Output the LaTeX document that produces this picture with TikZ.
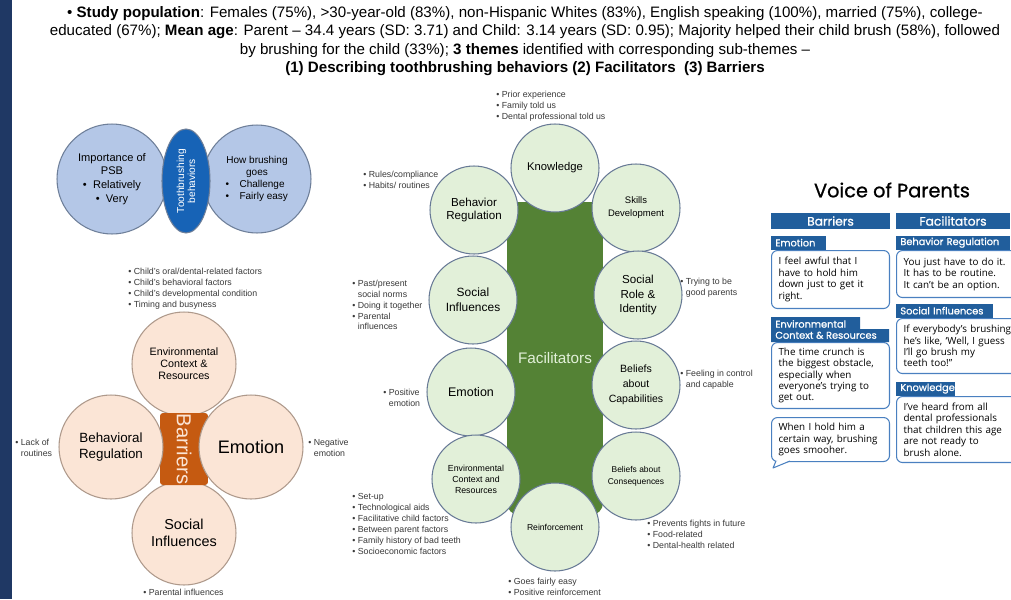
\documentclass[tikz,border=0pt]{standalone}
\usepackage{fontspec}
\setmainfont{Liberation Sans}
\newfontfamily\vopfont{Open Sans}
\newfontfamily\vophead{Poppins}[FakeBold=0.9]
\usepackage{xcolor}
\usepackage{tikz}
\usetikzlibrary{shapes.geometric, positioning}

\definecolor{navy}{HTML}{1F3864}
\definecolor{venfill}{HTML}{B4C7E7}
\definecolor{venline}{HTML}{6E7F99}
\definecolor{venmid}{HTML}{1763B6}
\definecolor{barfill}{HTML}{FBE5D6}
\definecolor{barline}{HTML}{AE998B}
\definecolor{barorange}{HTML}{C55A11}
\definecolor{facfill}{HTML}{E2F0D9}
\definecolor{facline}{HTML}{687A96}
\definecolor{facgreen}{HTML}{548235}
\definecolor{notegray}{HTML}{3A3A3A}
\definecolor{vop}{HTML}{215E9C}
\definecolor{vopline}{HTML}{4A80C0}

\newcommand{\fsz}[2]{\fontsize{#1}{#2}\selectfont}
\newcommand{\hang}{\hphantom{•~}}
\newcommand{\lbul}[1]{\makebox[1.26cm][l]{•\hspace{6pt}#1}}

\begin{document}
\begin{tikzpicture}[
    x=0.02cm, y=-0.02cm,
    venn/.style={circle, draw=venline, fill=venfill, line width=0.6pt, minimum size=2.2cm, inner sep=0pt, align=center},
    bcirc/.style={circle, draw=barline, fill=barfill, line width=0.6pt, minimum size=2.08cm, inner sep=0pt, align=center},
    fcirc/.style={circle, draw=facline, fill=facfill, line width=0.6pt, minimum size=1.76cm, inner sep=0pt, align=center},
    note/.style={anchor=west, align=left, inner sep=0pt, font=\fsz{5}{6.2}, text=notegray},
    bub/.style={draw=vopline, fill=white, rounded corners=0.12cm, line width=0.6pt, anchor=north west, align=left, inner xsep=0.14cm, inner ysep=0pt, font=\vopfont\fsz{5.6}{6.5}},
    tab/.style={fill=vop, text=white, anchor=south west, align=left, inner xsep=0.08cm, inner ysep=0pt, minimum height=0.28cm, font=\vophead\fsz{5.6}{6.4}},
    hdr/.style={fill=vop, text=white, minimum height=0.32cm, inner sep=0pt, font=\vophead\fsz{7}{8}}
]
\useasboundingbox (0,0) rectangle (1011,599);
\clip (0,0) rectangle (1011,599);
\fill[white] (0,0) rectangle (1011,599);
\fill[navy] (0,0) rectangle (12,599);

% Summary text
\node[font=\fsz{8.6}{10.5}, align=center] (head) at (525,41) {%
• \textbf{Study population}: Females (75\%), >30-year-old (83\%), non-Hispanic Whites (83\%), English speaking (100\%), married (75\%), college-\\
educated (67\%); \textbf{Mean age}: Parent – 34.4 years (SD: 3.71) and Child: 3.14 years (SD: 0.95); Majority helped their child brush (58\%), followed\\
by brushing for the child (33\%); \textbf{3 themes} identified with corresponding sub-themes –\\
\textbf{(1) Describing toothbrushing behaviors (2) Facilitators\ \ (3) Barriers}};

% Toothbrushing behaviors
\node[venn, font=\fsz{6.3}{7.9}] (imp) at (112,179) {Importance of\\PSB\\• \ Relatively\\• \ Very};
\node[venn, minimum size=2.16cm, font=\fsz{5.7}{6.8}] (how) at (257,179) {How brushing\\goes\\\lbul{Challenge}\\\lbul{Fairly easy}};
\node[ellipse, draw=venline, fill=venmid, line width=0.6pt, rotate=90, minimum width=2.08cm, minimum height=0.96cm, inner sep=0pt, text=white, align=center, font=\fsz{5.8}{6.2}] (tbb) at (186,181) {Toothbrushing\\behaviors};

% Barriers
\node[bcirc, font=\fsz{6.1}{6.8}] (becr) at (184,364) {Environmental\\Context \&\\Resources};
\node[bcirc, font=\fsz{8.2}{10}] (bsi) at (184,533) {Social\\Influences};
\node[fill=barorange, rounded corners=0.06cm, minimum width=0.96cm, minimum height=1.44cm, inner sep=0pt] (bar) at (184,449) {};
\node[bcirc, font=\fsz{7.6}{9.5}] (bbr) at (111,447) {Behavioral\\Regulation};
\node[bcirc, font=\fsz{10.3}{11}] (bemo) at (251,447) {Emotion};
\node[rotate=-90, inner sep=0pt, text=barfill, font=\fsz{11.5}{13}] (bartxt) at (bar.center) {Barriers};

\node[note] (nbecr) at (128,289) {• Child's oral/dental-related factors\\• Child's behavioral factors\\• Child's developmental condition\\• Timing and busyness};
\node[note] (nbbr) at (15,448) {• Lack of\\\hang routines};
\node[note] (nbemo) at (308,448) {• Negative\\\hang emotion};
\node[note] (nbsi) at (143,592) {• Parental influences};

% Facilitators
\node[fill=facgreen, rounded corners=0.24cm, minimum width=1.92cm, minimum height=6.26cm, inner sep=0pt, text=facfill, font=\fsz{8.7}{10}] (fac) at (555,358.5) {Facilitators};
\node[fcirc, font=\fsz{6.4}{7.4}] (know) at (555,168) {Knowledge};
\node[fcirc, font=\fsz{6.6}{7.4}] (fbr) at (474,210) {Behavior\\Regulation};
\node[fcirc, font=\fsz{5.4}{7.4}] (skill) at (636,208) {Skills\\Development};
\node[fcirc, font=\fsz{6.8}{8.5}] (fsi) at (473,300) {Social\\Influences};
\node[fcirc, font=\fsz{6.6}{8.2}] (role) at (638,295) {Social\\Role \&\\Identity};
\node[fcirc, font=\fsz{7.1}{8}] (femo) at (471,392) {Emotion};
\node[fcirc, font=\fsz{6}{8.5}] (bcap) at (636,385) {Beliefs\\about\\Capabilities};
\node[fcirc, font=\fsz{5}{6.2}] (fecr) at (476,479) {Environmental\\Context and\\Resources};
\node[fcirc, font=\fsz{4.8}{6.8}] (bcon) at (636,476) {Beliefs about\\Consequences};
\node[fcirc, font=\fsz{4.9}{6}] (reinf) at (555,527) {Reinforcement};

\node[note] (nknow) at (496,106) {• Prior experience\\• Family told us\\• Dental professional told us};
\node[note] (nfbr) at (363,180) {• Rules/compliance\\• Habits/ routines};
\node[note] (nfsi) at (352,305) {• Past/present\\\hang social norms\\• Doing it together\\• Parental\\\hang influences};
\node[note] (nfemo) at (383,397.5) {• Positive\\\hang emotion};
\node[note] (nfecr) at (352,524) {• Set-up\\• Technological aids\\• Facilitative child factors\\• Between parent factors\\• Family history of bad teeth\\• Socioeconomic factors};
\node[note] (nreinf) at (508,586.5) {• Goes fairly easy\\• Positive reinforcement};
\node[note] (nrole) at (680,288) {• Trying to be\\\hang good parents};
\node[note] (nbcap) at (680,379.5) {• Feeling in control\\\hang and capable};
\node[note] (nbcon) at (647,534) {• Prevents fights in future\\• Food-related\\• Dental-health related};

% Voice of Parents
\node[font=\vophead\fsz{11}{13}] (vop) at (892,190) {Voice of Parents};
\node[hdr, minimum width=2.38cm] (hbar) at (830.5,221) {Barriers};
\node[hdr, minimum width=2.28cm] (hfac) at (953,221) {Facilitators};

% barrier quotes
\node[bub, minimum height=1.16cm, text width=2.08cm] (qemo) at (771,250) {I feel awful that I\\have to hold him\\down just to get it\\right.};
\node[tab, text width=0.94cm] (temo) at (771,250) {Emotion};
\node[bub, minimum height=1.32cm, text width=2.08cm] (qecr) at (771,342) {The time crunch is\\the biggest obstacle,\\especially when\\everyone’s trying to\\get out.};
\fill[vop] (771,342) -- (771,317) -- (860,317) -- (860,329) -- (889,329) -- (889,342) -- cycle;
\node[anchor=west, align=left, inner sep=0pt, text=white, font=\vophead\fsz{5.6}{6.3}] (tecr) at (775,329.5) {Environmental\\Context \& Resources};
\node[bub, minimum height=0.88cm, text width=2.08cm] (qhold) at (771,417) {When I hold him a\\certain way, brushing\\goes smooher.};
\coordinate (tip) at (773,468);
\fill[white] (776,460.5) -- (tip) -- (790,460.5) -- cycle;
\draw[vopline, line width=0.6pt, line join=round] (776,461) -- (tip) -- (790,461);

% facilitator quotes
\node[bub, minimum height=0.94cm, text width=2.2cm] (qfbr) at (896,250) {You just have to do it.\\It has to be routine.\\It can’t be an option.};
\node[tab, text width=2.12cm] (tfbr) at (896,250) {Behavior Regulation};
\node[bub, minimum height=1.1cm, text width=2.2cm] (qfsi) at (896,318) {If everybody’s brushing,\\he’s like, ‘Well, I guess\\I’ll go brush my\\teeth too!”};
\node[tab, text width=1.78cm] (tfsi) at (896,318) {Social Influences};
\node[bub, minimum height=1.32cm, text width=2.2cm] (qknow) at (896,396) {I’ve heard from all\\dental professionals\\that children this age\\are not ready to\\brush alone.};
\node[tab, text width=1.02cm] (tknow) at (896,396) {Knowledge};

\end{tikzpicture}
\end{document}
